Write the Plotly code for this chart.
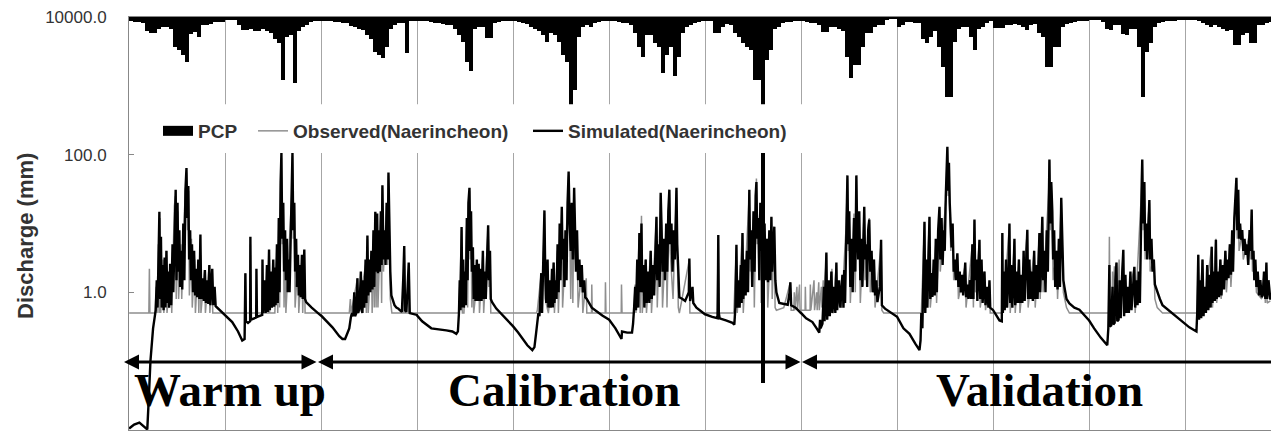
import plotly.graph_objects as go

# ---------------- data ----------------
years = list(range(1996, 2008))

# half-monthly precipitation totals (mm), 24 per year
pcp_1996 = [10,12,12,15,34,39,39,29,24,24,29,73,80,92,109,41,36,48,19,19,17,12,12,12]
pcp_1997 = [7,7,7,19,31,31,29,34,34,29,34,39,53,63,152,48,44,160,34,24,19,12,10,10]
pcp_1998 = [10,10,10,12,12,15,15,22,24,29,31,44,53,85,92,99,73,29,19,15,15,87,10,10]
pcp_1999 = [10,10,10,12,15,15,17,19,19,29,44,61,109,131,29,24,24,51,51,15,12,10,10,10]
pcp_2000 = [10,12,15,17,24,29,34,44,61,39,44,61,92,109,213,177,48,24,19,24,15,12,10,10]
pcp_2001 = [10,10,12,15,15,19,39,73,97,44,44,63,73,136,92,73,143,97,39,24,19,15,12,10]
pcp_2002 = [10,10,39,39,24,17,19,39,48,63,73,80,152,152,886,104,80,29,24,15,12,12,10,10]
pcp_2003 = [10,12,15,15,19,36,36,24,24,29,34,97,148,116,116,73,39,39,24,19,19,7,5,5]
pcp_2004 = [24,19,12,12,15,15,53,63,48,34,73,121,194,194,61,29,24,24,48,80,29,24,15,10]
pcp_2005 = [27,27,27,19,19,17,19,24,31,19,17,39,48,121,121,73,73,24,17,15,12,10,10,10]
pcp_2006 = [7,7,7,12,29,31,19,19,41,44,29,29,73,194,85,63,24,15,12,10,10,10,7,7]
pcp_2007 = [7,7,7,10,15,19,24,19,24,29,34,31,68,68,44,39,63,63,19,19,15,12,10,10]

# simulated discharge (day of year, mm)
sim_1996 = [(1,0.0105),(20,0.012),(40,0.0128),(58,0.011),(70,0.0102),(76,0.03),(82,0.1),(92,0.3),(102,0.55),
            (106,1.5),(109,0.6),(113,3.5),(116,14.8),(119,0.8),(122,6.4),(125,0.6),(129,2.5),(132,0.55),(136,3.2),
            (139,0.6),(143,4.0),(146,0.7),(150,2.0),(153,0.6),(157,2.6),(161,0.65),(166,5.0),(169,1.0),(174,12),
            (178,31),(181,1.5),(185,20),(188,2.0),(192,8.0),(195,1.2),(199,4.0),(203,1.1),(207,10),(211,1.5),(215,30),
            (219,64),(222,12),(226,35),(229,3.0),(233,8.0),(236,1.5),(240,5.0),(244,1.0),(248,4.0),(252,0.9),(256,2.2),
            (260,0.85),(264,3.0),(268,0.8),(272,6.9),(275,0.8),(280,1.6),(285,0.75),(289,2.1),(293,0.7),(298,1.5),
            (302,0.68),(306,2.5),(310,0.65),(314,1.3),(317,2.2),(321,0.65),(326,1.2),(330,0.63),(340,0.58),(365,0.47)]
sim_1997 = [(1,0.46),(28,0.37),(50,0.27),(66,0.2),(75,0.21),(78,1.9),(80,0.38),(88,0.36),(96,0.38),(97,6.4),(99,0.4),
            (110,0.42),(119,0.43),(120,2.2),(122,0.44),(135,0.46),(142,0.47),(143,3.0),(145,0.5),(152,1.5),(155,0.5),
            (160,2.5),(163,0.52),(168,4.2),(171,0.55),(176,2.0),(179,0.6),(184,3.0),(187,0.62),(190,2.3),(193,0.65),
            (198,5.0),(201,0.7),(205,12),(208,1.0),(212,40),(215,106),(218,6.0),(222,20),(225,2.0),(229,8.0),(232,1.5),
            (236,6.0),(239,1.0),(243,3.0),(246,1.0),(250,12),(254,30),(257,106),(260,8.0),(264,20),(267,2.0),(271,6.0),
            (274,1.2),(278,3.5),(281,0.9),(285,2.5),(288,0.85),(293,3.5),(296,0.8),(302,4.2),(305,0.8),(309,0.72),
            (330,0.6),(365,0.46)]
sim_1998 = [(1,0.46),(44,0.31),(70,0.23),(82,0.21),(92,0.21),(100,0.25),(108,0.3),(114,0.43),(118,0.5),(123,0.45),
            (127,1.0),(130,0.45),(135,0.5),(139,1.6),(142,0.5),(147,0.6),(152,2.0),(155,0.55),(158,0.5),(162,1.5),
            (165,0.6),(170,3.0),(173,0.7),(177,6.7),(180,0.9),(184,3.0),(188,1.0),(192,4.0),(196,1.1),(200,8.0),
            (203,1.2),(207,14.8),(210,2.0),(214,14),(217,1.9),(221,8.0),(224,2.0),(228,15),(231,2.5),(234,36),(238,3.0),
            (242,8.0),(246,2.5),(250,20),(254,3.0),(257,55),(260,12),(264,2.0),(268,0.9),(274,0.75),(280,0.65),
            (287,0.6),(295,0.58),(300,0.55),(308,0.52),(313,1.5),(317,4.7),(320,0.55),(325,0.52),(330,1.2),(334,2.7),
            (338,0.5),(350,0.49),(365,0.47)]
sim_1999 = [(1,0.46),(20,0.38),(55,0.3),(90,0.29),(112,0.28),(135,0.27),(150,0.25),(156,0.27),(160,0.5),(163,1.5),
            (166,0.55),(170,8.9),(173,0.6),(176,3.0),(179,0.6),(183,2.0),(186,0.65),(190,12),(193,1.5),(196,20),
            (200,33),(203,4.0),(206,15),(209,2.0),(213,4.5),(216,0.8),(220,2.5),(223,0.75),(228,3.0),(231,0.75),
            (235,2.6),(238,0.75),(243,2.2),(246,0.75),(251,4.0),(254,0.8),(259,2.0),(262,0.8),(267,5.0),(271,9.4),
            (274,1.5),(278,4.0),(281,0.8),(286,0.72),(302,0.58),(330,0.45),(365,0.32)]
sim_2000 = [(1,0.32),(20,0.26),(36,0.21),(55,0.17),(74,0.145),(82,0.16),(88,0.25),(93,0.35),(97,0.5),(101,0.45),
            (105,1.0),(108,1.9),(111,0.5),(116,3.0),(120,15.5),(123,2.0),(127,0.7),(132,3.0),(135,0.6),(140,1.5),
            (144,0.6),(149,2.2),(152,0.6),(155,2.7),(158,0.7),(162,1.5),(166,0.8),(170,5.0),(174,1.0),(178,10),
            (181,1.5),(186,17.5),(189,3.0),(193,6.0),(196,1.2),(200,8.0),(204,1.5),(208,20),(212,57),(216,10),(220,4.0),
            (224,20),(228,3.0),(233,33),(236,5.0),(240,2.0),(244,8.0),(248,1.5),(253,3.0),(257,1.2),(262,2.5),
            (266,1.0),(271,1.5),(275,0.85),(281,0.8),(300,0.6),(340,0.46),(365,0.4)]
sim_2001 = [(1,0.4),(25,0.3),(48,0.21),(50,0.27),(70,0.26),(88,0.26),(92,0.35),(96,0.6),(100,1.2),(103,0.55),
            (108,3.0),(112,0.6),(116,7.3),(119,1.0),(124,10),(127,1.0),(132,2.5),(135,0.6),(140,3.0),(144,0.7),
            (150,2.0),(154,0.7),(159,4.0),(163,0.8),(168,2.5),(172,0.9),(177,6.0),(181,12.5),(184,1.5),(189,5.0),
            (193,1.2),(197,28),(200,10),(204,2.0),(209,6.0),(213,1.5),(218,10),(222,2.0),(226,15),(230,31),(233,5.0),
            (238,10),(242,2.0),(247,8.0),(251,3.0),(254,20),(257,33),(260,5.0),(264,1.3),(268,0.85),(280,0.8),
            (290,0.75),(304,1.0),(306,3.1),(309,0.75),(318,1.2),(321,0.7),(333,0.6),(365,0.48)]
sim_2002 = [(1,0.48),(28,0.44),(48,0.42),(50,2.0),(51,6.8),(53,0.5),(56,0.42),(80,0.39),(105,0.36),(112,0.34),
            (116,0.6),(120,4.9),(123,0.6),(128,1.5),(132,0.6),(137,2.5),(140,0.7),(143,7.3),(146,0.8),(151,3.0),
            (155,0.9),(160,4.0),(164,1.0),(169,31),(172,3.0),(176,8.0),(180,1.2),(185,15),(189,2.0),(193,25),(196,40),
            (199,6.0),(203,12),(207,1.5),(211,20),(215,4.0),(219,35),(222,3.0),(227,10),(231,1.5),(236,6.0),(240,1.4),
            (245,8.0),(249,1.5),(253,12.5),(256,2.0),(260,5.0),(264,9.0),(268,1.5),(272,1.0),(283,0.7),(300,0.68),
            (315,0.66),(322,1.0),(325,1.4),(328,0.65),(345,0.6),(365,0.5)]
sim_2003 = [(1,0.5),(20,0.42),(44,0.37),(60,0.3),(70,0.26),(73,0.4),(75,0.3),(82,0.35),(88,1.2),(90,0.38),(97,3.8),
            (100,0.4),(106,1.5),(110,0.45),(116,2.0),(120,0.5),(127,1.2),(131,0.5),(135,2.7),(138,0.55),(145,1.5),
            (150,0.6),(158,1.8),(162,0.6),(165,2.1),(168,0.7),(172,8.0),(177,50),(180,5.0),(184,15),(188,1.2),(193,6.0),
            (197,1.0),(202,12),(207,2.0),(211,50),(214,8.0),(218,3.0),(222,15),(226,1.5),(230,6.0),(234,1.2),(241,17.5),
            (244,3.0),(249,5.0),(252,1.2),(256,8.0),(260,11.4),(264,2.0),(269,4.0),(273,1.0),(278,3.0),(282,0.9),
            (287,1.5),(291,0.72),(300,1.2),(305,5.8),(308,0.65),(320,0.58),(345,0.5),(365,0.44)]
sim_2004 = [(1,0.44),(25,0.3),(48,0.25),(70,0.18),(86,0.145),(90,0.2),(93,0.5),(97,0.3),(101,2.0),(105,10.6),
            (108,0.5),(112,3.0),(116,0.6),(120,5.0),(124,12.5),(127,0.8),(131,1.9),(135,0.86),(140,3.0),(144,0.9),
            (148,6.0),(152,1.0),(157,8.0),(162,17.5),(165,3.0),(170,12),(174,2.5),(178,8.0),(182,4.0),(186,25),
            (190,60),(192,130),(195,30),(198,76),(201,20),(205,6.0),(208,4.5),(212,10),(216,2.0),(220,3.0),(224,1.5),
            (230,3.7),(234,1.2),(239,2.0),(243,1.0),(248,1.8),(252,0.9),(256,1.5),(260,2.7),(263,0.85),(268,1.3),
            (272,0.8),(278,1.5),(282,0.8),(287,5.0),(291,0.8),(295,11.4),(298,1.5),(303,3.0),(306,0.75),(311,4.0),
            (314,5.8),(317,0.8),(322,3.0),(326,0.7),(333,2.0),(337,0.65),(344,1.2),(348,0.6),(352,1.5),(355,0.6),
            (365,0.55)]
sim_2005 = [(1,0.55),(15,0.45),(25,0.39),(34,0.38),(36,7.3),(38,0.5),(42,2.0),(45,0.55),(50,3.0),(54,0.6),(59,1.5),
            (63,10),(66,0.7),(70,2.5),(74,0.6),(78,1.5),(82,6.0),(85,0.65),(90,2.0),(94,0.7),(99,3.0),(103,0.7),
            (108,1.8),(112,0.7),(117,4.0),(121,0.75),(126,2.0),(131,8.1),(134,0.8),(139,3.0),(143,0.8),(148,2.0),
            (152,0.75),(157,4.0),(161,0.8),(166,2.5),(170,0.8),(177,7.3),(180,1.0),(184,5.0),(188,12.5),(191,1.5),
            (196,4.0),(200,1.0),(205,8.0),(209,2.0),(212,30),(215,85),(218,10),(222,40),(226,15),(229,3.0),(233,8.0),
            (237,1.2),(242,4.0),(246,1.1),(251,6.0),(255,1.2),(260,23.6),(264,3.0),(268,1.5),(272,1.2),(280,0.8),
            (291,0.69),(310,0.6),(329,0.56),(350,0.45),(365,0.4)]
sim_2006 = [(1,0.39),(20,0.3),(45,0.22),(70,0.17),(74,0.3),(78,2.5),(80,0.32),(85,0.33),(90,1.2),(93,0.34),(98,0.36),
            (101,1.5),(105,2.7),(108,0.38),(113,0.4),(117,1.5),(121,0.42),(127,2.0),(131,4.15),(134,0.45),(139,1.8),
            (143,0.5),(148,1.2),(152,0.5),(158,2.0),(162,0.55),(168,1.5),(173,2.35),(176,0.6),(181,1.5),(185,0.65),
            (190,2.0),(194,0.7),(198,20),(201,40),(203,85),(206,10),(211,40),(214,4.0),(218,10),(222,3.0),(226,8.0),
            (230,22),(233,3.0),(238,6.0),(242,2.0),(247,3.0),(251,1.3),(257,1.1),(270,0.8),(280,0.65),(300,0.56),
            (317,0.5),(340,0.42),(355,0.37),(365,0.35)]
sim_2007 = [(1,0.35),(17,0.31),(44,0.27),(47,0.5),(51,3.5),(54,0.4),(58,1.5),(62,0.42),(67,3.0),(71,0.45),(76,1.2),
            (80,0.5),(85,2.5),(89,0.55),(94,1.8),(98,0.6),(102,4.6),(105,0.7),(110,2.0),(114,0.75),(118,5.8),(121,0.8),
            (126,2.0),(130,0.85),(135,3.0),(139,0.9),(145,2.5),(149,1.1),(154,4.0),(158,1.5),(162,3.0),(166,1.6),
            (171,5.0),(175,1.8),(180,8.0),(183,2.0),(188,12),(192,20),(196,46),(199,8.0),(203,31),(206,6.0),(210,10),
            (214,5.8),(218,8.0),(222,4.0),(227,6.0),(231,3.5),(236,5.0),(241,2.5),(246,8.0),(250,4.0),(254,16),
            (257,3.0),(261,4.0),(264,1.5),(268,3.0),(272,1.2),(277,2.0),(282,0.9),(287,1.5),(292,0.85),(296,0.9),
            (301,2.0),(306,0.8),(310,2.7),(313,0.8),(318,1.5),(325,0.78)]

# observed discharge (day of year, mm)
obs_1996 = [(1,0.5),(76,0.5),(78,2.2),(80,0.5),(100,0.5),(104,1.2),(107,0.5),(112,5.0),(115,0.5),(118,12),(121,0.5),
            (130,3.0),(133,0.5),(142,4.0),(145,0.5),(160,2.4),(163,0.5),(173,18),(177,25),(180,0.8),(186,15),(189,0.8),
            (198,5.0),(201,0.8),(210,12),(216,40),(219,55),(223,8.0),(227,30),(230,0.9),(238,6.0),(241,0.6),(250,3.0),
            (253,0.5),(263,2.5),(266,0.5),(271,6.0),(274,0.5),(288,2.0),(291,0.5),(305,2.4),(308,0.5),(316,2.0),
            (319,0.5),(365,0.5)]
obs_1997 = [(1,0.5),(76,0.5),(78,1.9),(80,0.5),(96,0.5),(97,5.0),(99,0.5),(142,0.5),(143,2.5),(145,0.5),(167,0.5),
            (168,3.5),(170,0.5),(190,0.5),(198,4.0),(201,0.5),(205,10),(208,0.6),(212,35),(215,90),(218,5.0),(222,18),
            (225,0.6),(229,6.0),(232,0.5),(250,10),(254,25),(257,95),(260,6.0),(264,18),(267,0.6),(278,3.0),(281,0.5),
            (293,3.0),(296,0.5),(302,3.8),(305,0.5),(365,0.5)]
obs_1998 = [(1,0.5),(108,0.5),(112,0.8),(115,0.5),(139,1.6),(142,0.5),(170,2.5),(173,0.5),(177,6.0),(180,0.5),
            (192,3.5),(195,0.5),(200,7.0),(203,0.6),(207,13),(210,0.6),(214,12),(217,0.6),(228,14),(231,0.7),(234,33),
            (238,2.0),(250,18),(254,2.5),(257,50),(260,10),(264,0.8),(270,0.5),(316,0.5),(317,4.2),(320,0.5),
            (333,0.5),(334,2.5),(336,0.5),(365,0.5)]
obs_1999 = [(1,0.5),(158,0.5),(160,0.55),(170,8.0),(173,0.5),(179,0.5),(190,11),(193,0.6),(196,18),(200,30),(203,3.0),
            (206,13),(209,0.6),(213,4.0),(216,0.5),(235,2.4),(238,0.5),(251,3.5),(254,0.5),(267,4.5),(271,8.5),
            (274,1.2),(278,3.5),(281,0.5),(365,0.5)]
obs_2000 = [(1,0.5),(90,0.5),(93,0.55),(108,1.9),(111,0.5),(120,14),(123,0.8),(135,0.5),(155,2.7),(158,0.5),(170,4.0),
            (173,0.5),(186,16),(189,0.6),(208,18),(212,50),(216,8.0),(220,0.8),(224,18),(228,0.7),(233,30),(236,3.0),
            (244,7.0),(248,0.6),(262,2.2),(266,0.5),(279,1.6),(281,0.5),(299,0.5),(300,1.3),(302,0.5),(351,0.5),
            (352,1.4),(354,0.5),(365,0.5)]
obs_2001 = [(1,0.5),(47,0.5),(48,1.3),(50,0.5),(95,0.5),(100,1.3),(103,0.5),(116,7.0),(119,0.5),(124,13),(127,0.5),
            (140,3.0),(143,0.5),(159,4.0),(162,0.5),(177,6.0),(181,12),(184,0.6),(197,26),(200,9.0),(204,0.6),(218,9.0),
            (221,0.6),(230,30),(233,4.0),(244,0.8),(254,18),(257,30),(260,4.0),(264,0.6),(268,0.5),(306,3.0),(308,0.5),
            (365,0.5)]
obs_2002 = [(1,0.5),(50,0.5),(51,6.0),(53,0.5),(110,0.5),(120,4.5),(123,0.5),(143,7.0),(146,0.5),(169,28),(172,2.0),
            (185,14),(188,0.6),(196,45),(199,5.0),(211,18),(214,0.7),(219,30),(222,2.0),(236,6.0),(239,0.6),(253,12),
            (256,0.8),(264,8.0),(267,0.6),(272,0.55),(300,0.6),(325,1.4),(328,0.55),(338,0.55),(340,1.0),(342,0.55),
            (350,1.2),(352,0.55),(360,1.3),(362,0.55),(365,0.55)]
obs_2003 = [(1,0.55),(16,0.55),(17,1.2),(19,0.55),(35,0.55),(36,1.3),(38,0.55),(50,1.5),(52,0.55),(60,1.0),(62,0.55),
            (68,1.4),(70,0.55),(78,1.2),(80,0.6),(85,1.5),(87,0.6),(97,3.5),(100,0.6),(108,1.3),(111,0.6),(118,2.2),
            (121,0.6),(135,2.5),(138,0.6),(150,1.0),(155,0.6),(172,9.0),(177,45),(180,4.0),(184,14),(188,0.7),(202,14),
            (207,1.0),(211,48),(214,6.0),(222,13),(226,0.7),(241,16),(244,1.5),(256,9.0),(260,12),(264,1.0),(278,3.0),
            (282,0.6),(305,5.0),(308,0.55),(315,0.5),(365,0.5)]
obs_2004 = [(1,0.5),(88,0.5),(93,0.5),(105,10),(108,0.5),(124,12),(127,0.6),(148,5.0),(151,0.7),(162,16),(165,2.0),
            (186,22),(190,55),(192,120),(195,25),(198,70),(201,15),(205,4.0),(212,9.0),(216,1.5),(230,3.5),(234,0.8),
            (260,2.5),(263,0.6),(287,5.0),(291,0.6),(295,11),(298,1.0),(314,5.5),(317,0.6),(333,2.0),(337,0.55),
            (352,1.4),(355,0.5),(365,0.5)]
obs_2005 = [(1,0.5),(34,0.5),(36,7.0),(38,0.5),(63,9.5),(66,0.5),(82,5.5),(85,0.5),(99,3.0),(103,0.5),(131,7.5),
            (134,0.6),(157,4.0),(161,0.6),(177,7.0),(180,0.8),(188,12),(191,1.0),(212,28),(215,80),(218,8.0),(222,38),
            (226,10),(229,1.5),(242,4.0),(246,0.8),(260,22),(264,2.5),(268,1.0),(280,0.6),(291,0.5),(365,0.5)]
obs_2006 = [(1,0.5),(76,0.5),(78,6.4),(80,0.5),(88,0.5),(90,2.0),(92,0.5),(97,2.4),(100,0.5),(105,2.7),(108,0.5),
            (115,3.0),(118,0.5),(131,4.0),(134,0.5),(173,2.3),(176,0.5),(198,18),(201,35),(203,80),(206,8.0),(211,38),
            (214,3.0),(230,20),(233,2.0),(247,3.0),(251,0.8),(260,0.6),(280,0.5),(365,0.5)]
obs_2007 = [(1,0.5),(44,0.5),(47,0.5),(51,3.5),(54,0.5),(67,3.0),(70,0.5),(102,4.6),(105,0.6),(118,6.0),(121,0.7),
            (135,3.0),(138,0.8),(154,4.0),(158,1.0),(171,5.0),(175,1.2),(188,11),(192,18),(196,44),(199,6.0),(203,30),
            (206,4.0),(214,6.0),(218,7.0),(222,3.0),(246,7.0),(250,3.0),(254,15),(257,2.0),(268,2.5),(272,1.0),
            (292,0.8),(301,1.8),(306,0.7),(310,2.5),(313,0.7),(325,0.75)]

pcp_years = [pcp_1996, pcp_1997, pcp_1998, pcp_1999, pcp_2000, pcp_2001,
             pcp_2002, pcp_2003, pcp_2004, pcp_2005, pcp_2006, pcp_2007]
sim_years = [sim_1996, sim_1997, sim_1998, sim_1999, sim_2000, sim_2001,
             sim_2002, sim_2003, sim_2004, sim_2005, sim_2006, sim_2007]
obs_years = [obs_1996, obs_1997, obs_1998, obs_1999, obs_2000, obs_2001,
             obs_2002, obs_2003, obs_2004, obs_2005, obs_2006, obs_2007]

y_tickvals = [0.01, 1, 100, 10000]
y_ticktext = ["0.0", "1.0", "100.0", "10000.0"]

# periods (decimal years) and labels
periods = [("Warm up", 1996.0, 1998.0), ("Calibration", 1998.0, 2003.0), ("Validation", 2003.0, 2008.2)]
label_x = [1997.057, 2000.526, 2005.484]


def to_series(year_lists):
    t, v = [], []
    for yr, pts in zip(years, year_lists):
        for d, q in pts:
            t.append(yr + (d - 0.5) / 365.0)
            v.append(q)
    return t, v


pcp_x, pcp_v = [], []
for yr, vals in zip(years, pcp_years):
    for i, v in enumerate(vals):
        pcp_x.append(yr + (i + 0.5) / 24.0)
        pcp_v.append(v)

sim_t, sim_q = to_series(sim_years)
obs_t, obs_q = to_series(obs_years)

# ---------------- figure ----------------
W, H = 1271, 439
ML, MT, MB = 129, 17, 9
plot_w = W - ML
x_end = 1996 + plot_w / 96.0

fig = go.Figure()

fig.add_trace(go.Bar(x=pcp_x, y=pcp_v, width=1 / 24.0, marker=dict(color="black", line=dict(width=0)),
                     yaxis="y2", showlegend=False, name="PCP"))
# legend entry for PCP (rectangular swatch)
fig.add_trace(go.Scatter(x=[None], y=[None], mode="lines", name="PCP",
                         line=dict(color="black", width=13), legend="legend"))
fig.add_trace(go.Scatter(x=obs_t, y=obs_q, mode="lines", name="Observed(Naerincheon)",
                         line=dict(color="#8f8f8f", width=1.5), legend="legend2"))
fig.add_trace(go.Scatter(x=sim_t, y=sim_q, mode="lines", name="Simulated(Naerincheon)",
                         line=dict(color="black", width=2.4), legend="legend3"))

leg_font = dict(family="Liberation Sans", size=19, color="#333333", weight="bold")
leg_common = dict(orientation="h", xanchor="left", y=0.724, yanchor="middle",
                  bgcolor="rgba(0,0,0,0)", font=leg_font, itemwidth=30)

fig.update_layout(
    width=W, height=H,
    margin=dict(l=ML, r=0, t=MT, b=MB, pad=0),
    paper_bgcolor="white", plot_bgcolor="white",
    bargap=0,
    xaxis=dict(range=[1996, x_end], tick0=1996, dtick=1, showticklabels=False, ticks="",
               showgrid=True, gridcolor="#a6a6a6", gridwidth=1, zeroline=False,
               showline=True, linecolor="#888888", linewidth=1, mirror=True),
    yaxis=dict(type="log", range=[-2, 4], tickvals=y_tickvals, ticktext=y_ticktext,
               ticks="inside", ticklen=5, tickcolor="#888888", showgrid=False, zeroline=False,
               showline=True, linecolor="#888888", linewidth=1,
               tickfont=dict(family="Liberation Sans", size=17, color="#333333"),
               ticklabelstandoff=18),
    yaxis2=dict(overlaying="y", range=[1000, 0], visible=False),
    legend=dict(x=0.0254, **leg_common),
    legend2=dict(x=0.1086, **leg_common),
    legend3=dict(x=0.3494, **leg_common),
)

# white band behind the legend
fig.add_shape(type="rect", xref="x", yref="paper", x0=1996.16, x1=2003.07, y0=0.671, y1=0.789,
              fillcolor="white", line=dict(width=0), layer="above")

# y-axis title
fig.add_annotation(text="Discharge (mm)", xref="paper", yref="paper", x=-0.0902, y=0.47,
                   textangle=-90, showarrow=False, xanchor="center", yanchor="middle",
                   font=dict(family="Liberation Sans", size=22, color="#333333", weight="bold"))

# period arrows and labels
arrow_y = -1.011
offs = [(-0.068, -0.047), (-0.047, -0.005), (-0.005, 0.0)]
for (name, a, b), (oa, ob), lx in zip(periods, offs, label_x):
    fig.add_annotation(x=b + ob, y=arrow_y, ax=a + oa, ay=arrow_y, xref="x", yref="y", axref="x", ayref="y",
                       text="", showarrow=True, arrowside="end+start", arrowhead=2, startarrowhead=2,
                       arrowsize=1, startarrowsize=1, arrowwidth=3, arrowcolor="black", standoff=0, startstandoff=0)
    fig.add_annotation(text=name, x=lx, y=0.097, xref="x", yref="paper", showarrow=False,
                       xanchor="center", yanchor="middle",
                       font=dict(family="Liberation Serif", size=47, color="black", weight="bold"))

fig.write_html("out.html")
